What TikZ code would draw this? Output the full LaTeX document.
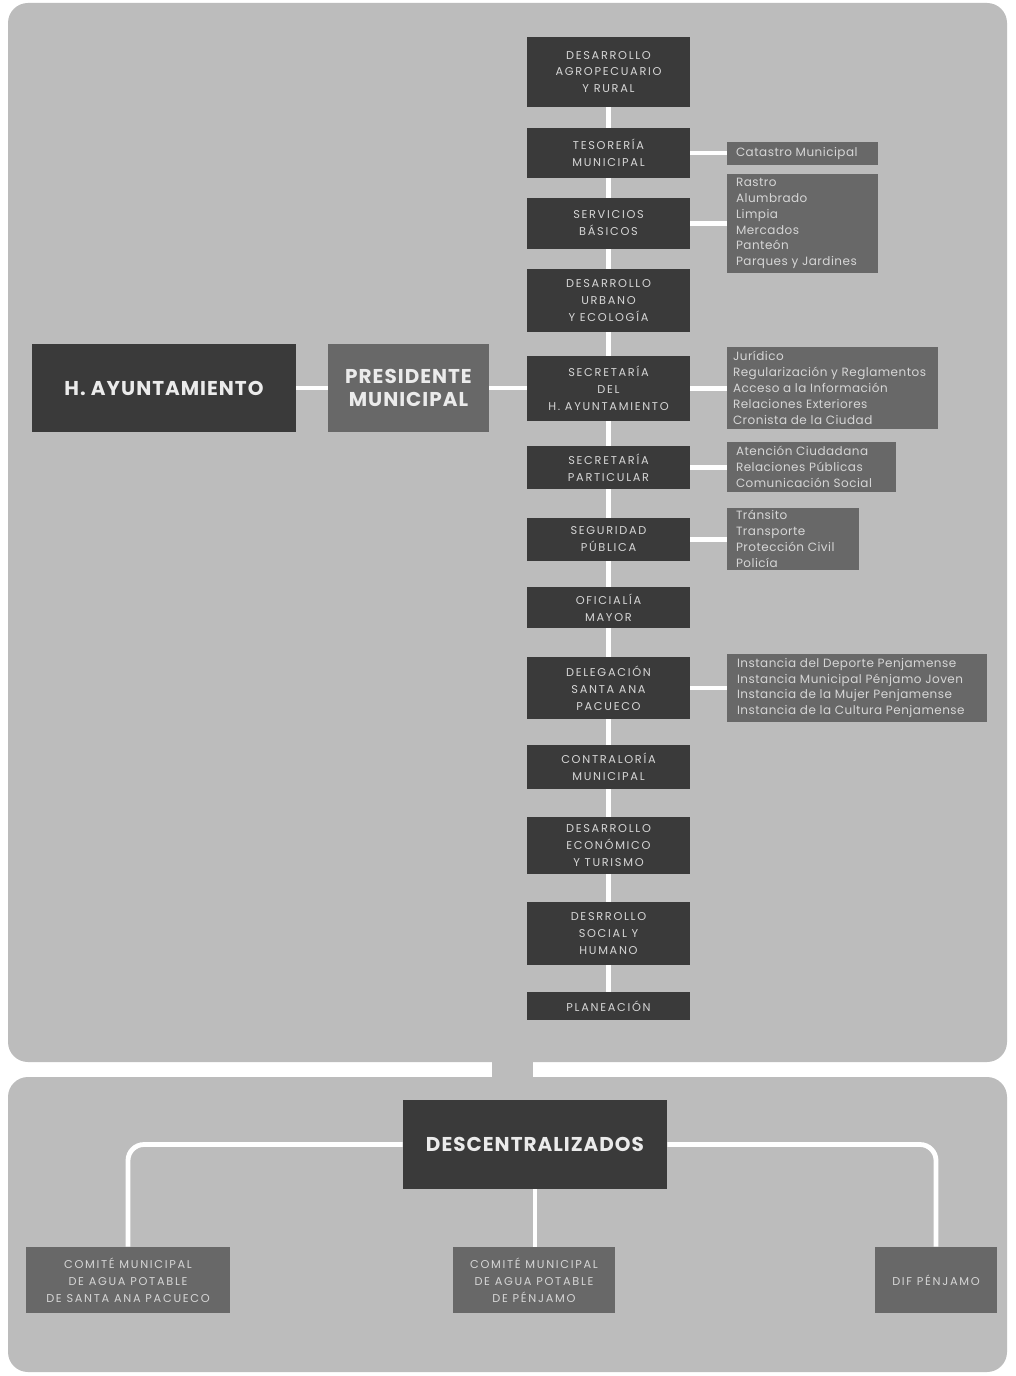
\documentclass[tikz,border=0pt]{standalone}
\usepackage{fontspec}
\setmainfont{Poppins}
\definecolor{panel}{RGB}{188,188,188}
\definecolor{darkbox}{RGB}{58,58,58}
\definecolor{midbox}{RGB}{104,104,104}
\definecolor{boxtext}{RGB}{214,214,214}
\pgfdeclarelayer{bg}
\pgfdeclarelayer{lines}
\pgfsetlayers{bg,lines,main}
% \bx{style}{name}{x1}{y1}{x2}{y2}{text}  (pixel coordinates)
\newcommand\bx[7]{%
  \node[#1, minimum width={(#5-#3)*0.75pt}, minimum height={(#6-#4)*0.75pt}]
    (#2) at ({(#3+#5)/2},{(#4+#6)/2}) {#7};}
\begin{document}
\begin{tikzpicture}[x=0.75pt,y=-0.75pt,
  dbox/.style={fill=darkbox, inner sep=0pt, text=boxtext, align=center,
    font=\fontsize{8.5}{12.7}\selectfont\addfontfeatures{LetterSpace=15}},
  lbox/.style={fill=midbox, inner sep=0pt, text=boxtext, align=flush left,
    font=\fontsize{9}{11.9}\selectfont\addfontfeatures{LetterSpace=4}},
  cbox/.style={fill=midbox, inner sep=0pt, text=boxtext, align=center,
    font=\fontsize{8.5}{12.7}\selectfont\addfontfeatures{LetterSpace=15}},
  titlebox/.style={inner sep=0pt, text=white!92!black, align=center,
    font=\fontsize{15}{17.5}\selectfont\bfseries\addfontfeatures{LetterSpace=5}},
  conn/.style={draw=white, line width=3.6pt},
  bconn/.style={draw=white, line width=3.6pt, rounded corners=12pt}]
\useasboundingbox (0,0) rectangle (1015,1376);
\begin{pgfonlayer}{bg}
\fill[white] (0,0) rectangle (1015,1376);
\fill[panel, rounded corners=15pt] (8,3) rectangle (1007,1062);
\fill[panel] (492,1058) rectangle (533,1081);
\fill[panel, rounded corners=15pt] (8,1077) rectangle (1007,1372);
\end{pgfonlayer}

% central column
\bx{dbox}{b1}{527}{37}{690}{107}{DESARROLLO\\AGROPECUARIO\\Y RURAL}
\bx{dbox}{b2}{527}{128}{690}{178}{TESORERÍA\\MUNICIPAL}
\bx{dbox}{b3}{527}{198}{690}{249}{SERVICIOS\\BÁSICOS}
\bx{dbox}{b4}{527}{269}{690}{332}{DESARROLLO\\URBANO\\Y ECOLOGÍA}
\bx{dbox}{b5}{527}{356}{690}{421}{SECRETARÍA\\DEL\\H. AYUNTAMIENTO}
\bx{dbox}{b6}{527}{446}{690}{489}{SECRETARÍA\\PARTICULAR}
\bx{dbox}{b7}{527}{518}{690}{561}{SEGURIDAD\\PÚBLICA}
\bx{dbox}{b8}{527}{587}{690}{628}{OFICIALÍA\\MAYOR}
\bx{dbox}{b9}{527}{657}{690}{719}{DELEGACIÓN\\SANTA ANA\\PACUECO}
\bx{dbox}{b10}{527}{745}{690}{789}{CONTRALORÍA\\MUNICIPAL}
\bx{dbox}{b11}{527}{817}{690}{874}{DESARROLLO\\ECONÓMICO\\Y TURISMO}
\bx{dbox}{b12}{527}{902}{690}{965}{DESRROLLO\\SOCIAL Y\\HUMANO}
\bx{dbox}{b13}{527}{992}{690}{1020}{PLANEACIÓN}

% right lists
\bx{lbox, text width=133*0.75pt}{r2}{727}{142}{878}{165}{Catastro Municipal}
\bx{lbox, text width=133*0.75pt}{r3}{727}{174}{878}{273}{Rastro\\Alumbrado\\Limpia\\Mercados\\Panteón\\Parques y Jardines}
\bx{lbox, text width=199*0.75pt}{r5}{727}{347}{938}{429}{Jurídico\\Regularización y Reglamentos\\Acceso a la Información\\Relaciones Exteriores\\Cronista de la Ciudad}
\bx{lbox, text width=151*0.75pt}{r6}{727}{442}{896}{492}{Atención Ciudadana\\Relaciones Públicas\\Comunicación Social}
\bx{lbox, text width=114*0.75pt}{r7}{727}{508}{859}{570}{Tránsito\\Transporte\\Protección Civil\\Policía}
\bx{lbox, text width=240*0.75pt}{r9}{727}{654}{987}{722}{Instancia del Deporte Penjamense\\Instancia Municipal Pénjamo Joven\\Instancia de la Mujer Penjamense\\Instancia de la Cultura Penjamense}

% left titles
\bx{titlebox, fill=darkbox}{ayu}{32}{344}{296}{432}{H. AYUNTAMIENTO}
\bx{titlebox, fill=midbox}{pres}{328}{344}{489}{432}{PRESIDENTE\\MUNICIPAL}

% bottom
\bx{titlebox, fill=darkbox}{desc}{403}{1100}{667}{1189}{DESCENTRALIZADOS}
\bx{cbox}{c1}{26}{1247}{230}{1313}{COMITÉ MUNICIPAL\\DE AGUA POTABLE\\DE SANTA ANA PACUECO}
\bx{cbox}{c2}{453}{1247}{615}{1313}{COMITÉ MUNICIPAL\\DE AGUA POTABLE\\DE PÉNJAMO}
\bx{cbox}{c3}{875}{1247}{997}{1313}{DIF PÉNJAMO}

\begin{pgfonlayer}{lines}
\draw[conn] (b1.south) -- (b13.north);
\draw[conn] (ayu.east) -- (pres.west);
\draw[conn] (pres.east) -- (pres.east -| b5.west);
\draw[conn] (b2.east) -- (b2.east -| r2.west);
\draw[conn] (b3.east) -- (b3.east -| r3.west);
\draw[conn] (b5.east) -- (b5.east -| r5.west);
\draw[conn] (b6.east) -- (b6.east -| r6.west);
\draw[conn] (b7.east) -- (b7.east -| r7.west);
\draw[conn] (b9.east) -- (b9.east -| r9.west);
\draw[bconn] (desc.west) -| (c1.north);
\draw[bconn] (desc.east) -| (c3.north);
\draw[conn] (desc.south) -- (desc.south |- c2.north);
\end{pgfonlayer}
\end{tikzpicture}
\end{document}
